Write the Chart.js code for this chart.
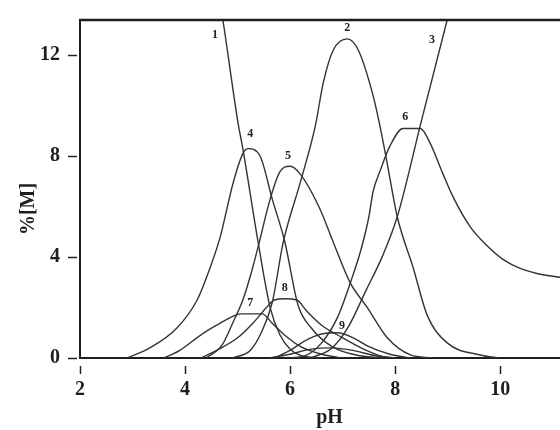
<!DOCTYPE html>
<html>
<head>
<meta charset="utf-8">
<script src="https://cdn.jsdelivr.net/npm/chart.js@4.4.1/dist/chart.umd.min.js"></script>
<style>
html, body { margin: 0; padding: 0; background: #fff; overflow: hidden; width: 560px; height: 430px; }
canvas { display: block; }
</style>
</head>
<body>
<canvas id="speciesChart" width="600" height="430"></canvas>
<script>
// species distribution (pH, %[M])
const ph1 = [4.55, 4.72, 5.01, 5.10, 5.39, 5.62, 5.81, 6.0, 6.2, 6.6];
const m1  = [15.5, 13.4, 9.3, 8.3, 4.6, 2.0, 0.9, 0.35, 0.1, 0];

const ph2 = [4.9, 5.24, 5.45, 5.66, 5.87, 6.2, 6.48, 6.63, 6.82, 7.09, 7.3, 7.58, 7.71, 7.85, 8.04, 8.34, 8.61, 8.99, 9.62, 10.0];
const m2  = [0, 0.3, 1.0, 2.2, 4.6, 7.0, 9.2, 10.9, 12.2, 12.65, 12.2, 10.4, 9.2, 7.7, 5.6, 3.6, 1.7, 0.6, 0.12, 0];

const ph3 = [6.4, 6.8, 7.1, 7.45, 7.75, 8.04, 8.5, 8.99, 9.1];
const m3  = [0, 0.4, 1.2, 2.7, 4.0, 5.6, 9.4, 13.4, 14.3];

const ph4 = [2.9, 3.33, 3.85, 4.23, 4.48, 4.67, 4.91, 5.1, 5.2, 5.43, 5.66, 5.9, 6.15, 6.4, 6.8, 7.3, 7.8];
const m4  = [0, 0.4, 1.2, 2.3, 3.6, 4.8, 6.9, 8.1, 8.3, 8.0, 6.3, 4.6, 2.1, 1.2, 0.45, 0.1, 0];

const ph5 = [4.4, 4.7, 4.91, 5.1, 5.25, 5.39, 5.62, 5.81, 6.0, 6.19, 6.57, 6.82, 7.14, 7.47, 7.85, 8.29, 8.7];
const m5  = [0, 0.5, 1.4, 2.3, 3.3, 4.4, 6.3, 7.4, 7.6, 7.3, 5.9, 4.6, 3.0, 2.0, 0.8, 0.12, 0];

const ph6 = [6.0, 6.3, 6.6, 6.9, 7.15, 7.35, 7.5, 7.58, 7.71, 7.9, 8.15, 8.48, 8.67, 8.91, 9.1, 9.43, 9.75, 10.06, 10.38, 10.7, 11.14, 11.5];
const m6  = [0, 0.1, 0.6, 1.6, 3.0, 4.3, 5.6, 6.6, 7.4, 8.4, 9.1, 9.1, 8.5, 7.3, 6.4, 5.2, 4.45, 3.9, 3.55, 3.35, 3.2, 3.1];

const ph7 = [3.6, 3.9, 4.29, 4.6, 4.91, 5.05, 5.47, 5.65, 5.9, 6.2, 6.6, 7.0];
const m7  = [0, 0.3, 0.9, 1.3, 1.65, 1.75, 1.75, 1.4, 0.9, 0.45, 0.15, 0];

const ph8 = [4.3, 4.6, 5.0, 5.3, 5.55, 5.7, 5.9, 6.13, 6.3, 6.6, 7.0, 7.4, 7.77, 8.0];
const m8  = [0, 0.3, 0.8, 1.4, 2.0, 2.3, 2.35, 2.3, 1.9, 1.3, 0.8, 0.35, 0.05, 0];

const ph9 = [5.7, 6.0, 6.3, 6.6, 6.9, 7.2, 7.5, 7.9, 8.3];
const m9  = [0, 0.3, 0.7, 0.95, 1.0, 0.8, 0.45, 0.15, 0];

// small unlabeled hump near the baseline
const ph10 = [5.6, 6.0, 6.4, 6.8, 7.2, 7.6, 8.0];
const m10  = [0, 0.15, 0.35, 0.4, 0.3, 0.1, 0];

// species numbers written next to the curves
const speciesNames = ['1', '2', '3', '4', '5', '6', '7', '8', '9'];
const labelPH  = [4.57, 7.09, 8.7, 5.24, 5.96, 8.19, 5.24, 5.9, 6.99];
const labelPct = [12.8, 13.1, 12.6, 8.87, 8.0, 9.57, 2.18, 2.76, 1.28];

const xTicks = [2, 4, 6, 8, 10];
const yTicks = [0, 4, 8, 12];

const allPH = [ph1, ph2, ph3, ph4, ph5, ph6, ph7, ph8, ph9, ph10];
const allM  = [m1, m2, m3, m4, m5, m6, m7, m8, m9, m10];

const serif = '"Liberation Serif", "Times New Roman", serif';
const ink = '#1e1e1e';

const datasets = allPH.map((p, i) => ({
    label: 'species ' + (i + 1),
    data: p.map((v, j) => ({ x: v, y: allM[i][j] })),
    borderColor: '#333',
    borderWidth: 1.4,
    pointRadius: 0,
    fill: false,
    cubicInterpolationMode: 'monotone'
}));

// top frame line, species numbers and the y title
const decoPlugin = {
    id: 'deco',
    afterDraw: (chart) => {
        const { ctx, chartArea: { top, bottom, left, right }, scales: { x, y } } = chart;
        ctx.save();
        ctx.strokeStyle = ink;
        ctx.lineWidth = 2.5;
        ctx.beginPath();
        ctx.moveTo(left - 1, top);
        ctx.lineTo(right, top);
        ctx.stroke();

        ctx.fillStyle = '#222';
        ctx.font = 'bold 12px ' + serif;
        ctx.textAlign = 'center';
        ctx.textBaseline = 'middle';
        speciesNames.forEach((n, i) => {
            ctx.fillText(n, x.getPixelForValue(labelPH[i]), y.getPixelForValue(labelPct[i]));
        });

        ctx.font = 'bold 20px ' + serif;
        ctx.fillStyle = ink;
        ctx.translate(29, (top + bottom) / 2 + 20);
        ctx.rotate(-Math.PI / 2);
        ctx.fillText('%[M]', 0, 0);
        ctx.restore();
    }
};

new Chart(document.getElementById('speciesChart'), {
    type: 'line',
    data: { datasets: datasets },
    plugins: [decoPlugin],
    options: {
        responsive: false,
        animation: false,
        devicePixelRatio: 1,
        layout: { padding: { top: 13, right: 21, left: 0, bottom: 0 } },
        plugins: { legend: { display: false }, tooltip: { enabled: false } },
        scales: {
            x: {
                type: 'linear',
                min: 2,
                max: 11.5,
                afterBuildTicks: (s) => { s.ticks = xTicks.map(v => ({ value: v })); },
                afterFit: (s) => { s.height = 72; },
                ticks: { font: { family: serif, size: 20, weight: 'bold' }, color: ink, padding: 4, maxRotation: 0 },
                grid: { drawOnChartArea: false, tickLength: 16, tickColor: '#222', tickWidth: 1.5, tickBorderDash: [9, 50], tickBorderDashOffset: 52 },
                border: { color: ink, width: 2 },
                title: { display: true, text: 'pH', font: { family: serif, size: 20, weight: 'bold' }, color: ink, padding: { top: 0, bottom: 0 } }
            },
            y: {
                min: 0,
                max: 13.4,
                afterBuildTicks: (s) => { s.ticks = yTicks.map(v => ({ value: v })); },
                afterFit: (s) => { s.width = 80; },
                ticks: { font: { family: serif, size: 20, weight: 'bold' }, color: ink, padding: 8 },
                grid: { drawOnChartArea: false, tickLength: 12, tickColor: '#222', tickWidth: 1.5, tickBorderDash: [9, 50], tickBorderDashOffset: 0 },
                border: { color: ink, width: 2 }
            }
        }
    }
});
</script>
</body>
</html>
